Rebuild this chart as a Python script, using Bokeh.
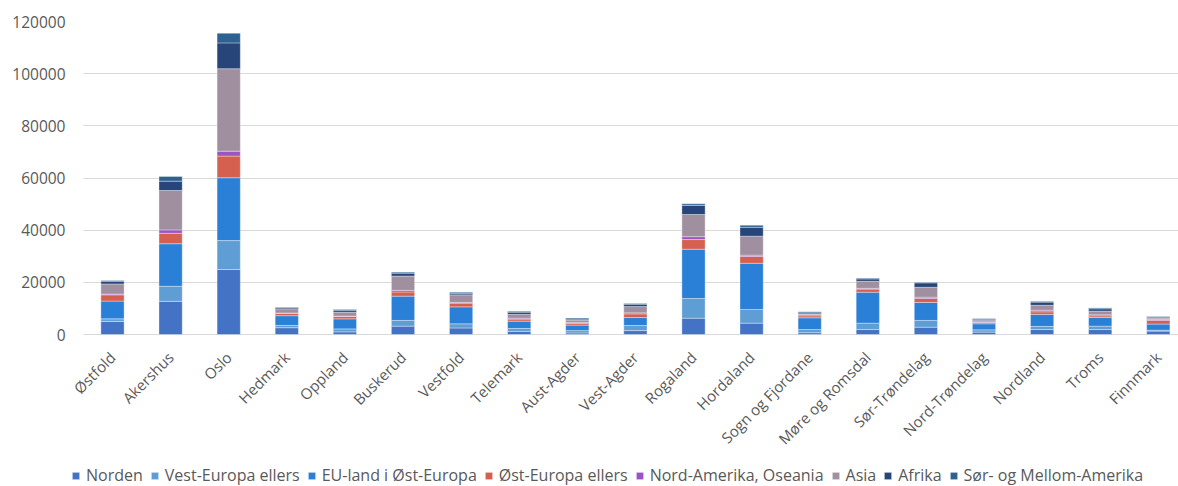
from math import pi
from bokeh.plotting import figure
from bokeh.models import (ColumnDataSource, Range1d, FixedTicker, NumeralTickFormatter,
                          LinearAxis, BoxAnnotation)
from bokeh.embed import file_html
from bokeh.resources import INLINE

regions = ["Østfold", "Akershus", "Oslo", "Hedmark", "Oppland", "Buskerud", "Vestfold",
           "Telemark", "Aust-Agder", "Vest-Agder", "Rogaland", "Hordaland",
           "Sogn og Fjordane", "Møre og Romsdal", "Sør-Trøndelag", "Nord-Trøndelag",
           "Nordland", "Troms", "Finnmark"]

norden      = [5000, 12700, 24900, 2600, 1000, 3200, 2500, 1200, 600, 1500, 6250, 4350, 700, 1900, 2800, 900, 1900, 1900, 1300]
vest_europa = [1000, 5800, 11100, 900, 1150, 2200, 1600, 1100, 900, 1950, 7550, 5250, 1200, 2450, 2600, 900, 1200, 1300, 350]
eu_ost      = [6800, 16300, 24100, 3700, 3850, 9300, 6500, 2800, 2100, 3050, 18900, 17700, 4500, 11850, 6900, 2300, 4600, 3300, 2350]
ost_ellers  = [2400, 4000, 8300, 900, 900, 1600, 1400, 800, 600, 1400, 3700, 2600, 750, 1200, 1500, 500, 1000, 650, 1400]
nord_am     = [300, 1300, 1900, 150, 150, 600, 300, 350, 400, 400, 1100, 500, 400, 300, 500, 250, 600, 400, 400]
asia        = [3900, 15100, 31600, 1600, 1500, 5500, 2900, 1450, 900, 2400, 8500, 7300, 350, 2700, 3800, 500, 1900, 1400, 500]
afrika      = [1000, 3600, 9900, 500, 750, 1100, 600, 850, 400, 900, 3500, 3400, 400, 900, 1700, 500, 1200, 900, 350]
sor_am      = [300, 1800, 3700, 200, 300, 400, 400, 350, 400, 300, 600, 800, 400, 300, 250, 250, 300, 350, 250]

series_labels = ["Norden", "Vest-Europa ellers", "EU-land i Øst-Europa", "Øst-Europa ellers",
                 "Nord-Amerika, Oseania", "Asia", "Afrika", "Sør- og Mellom-Amerika"]
series_keys = ["norden", "vest_europa", "eu_ost", "ost_ellers", "nord_am", "asia", "afrika", "sor_am"]
colors = ["#4472C4", "#5F9ED4", "#2A7FD7", "#D66050", "#9B55C3", "#A0909F", "#274579", "#2C6191"]

y_ticks = [0, 20000, 40000, 60000, 80000, 100000, 120000]

source = ColumnDataSource(dict(
    x=list(range(len(regions))),
    norden=norden, vest_europa=vest_europa, eu_ost=eu_ost, ost_ellers=ost_ellers,
    nord_am=nord_am, asia=asia, afrika=afrika, sor_am=sor_am,
))

FONT = "Open Sans"
GREY = "#595959"

# layout constants (pixels)
W, H = 1178, 486
FRAME_LEFT, FRAME_TOP = 66, 21
ZERO_Y = 334
CAT_W = 58.1
FIRST_CENTER = 112

PX_PER_UNIT = (ZERO_Y - FRAME_TOP) / 120000
y_start = -(H - ZERO_Y) / PX_PER_UNIT
x_start = -(FIRST_CENTER - FRAME_LEFT) / CAT_W
x_end = x_start + (W - FRAME_LEFT) / CAT_W

p = figure(width=W, height=H, output_backend="svg", toolbar_location=None,
           x_range=Range1d(x_start, x_end), y_range=Range1d(y_start, 120000),
           x_axis_location=None,
           min_border_left=FRAME_LEFT, min_border_right=0, min_border_top=FRAME_TOP,
           min_border_bottom=0)

p.outline_line_color = None
p.background_fill_color = "white"
p.xgrid.visible = False
p.ygrid.ticker = FixedTicker(ticks=y_ticks)
p.ygrid.grid_line_color = "#d9d9d9"
p.ygrid.grid_line_width = 1

# gridlines begin at the left edge of the first category slot
p.add_layout(BoxAnnotation(right=-0.5, fill_color="white", fill_alpha=1.0,
                           line_color=None, level="underlay"))

p.vbar_stack(series_keys, x="x", width=0.4, source=source, fill_color=colors,
             line_color="white", line_alpha=0.35, line_width=1,
             legend_label=series_labels)

p.yaxis.ticker = FixedTicker(ticks=y_ticks)
p.yaxis.formatter = NumeralTickFormatter(format="0")
p.yaxis.axis_line_color = None
p.yaxis.major_tick_line_color = None
p.yaxis.minor_tick_line_color = None
p.yaxis.major_tick_out = 0
p.yaxis.major_tick_in = 0
p.yaxis.major_label_standoff = 1
p.yaxis.major_label_text_font = FONT
p.yaxis.major_label_text_font_size = "15.5px"
p.yaxis.major_label_text_color = GREY

xaxis = LinearAxis(fixed_location=0,
                   ticker=FixedTicker(ticks=list(range(len(regions)))),
                   major_label_overrides={i: r for i, r in enumerate(regions)},
                   major_label_orientation=pi / 4,
                   axis_line_color=None,
                   major_tick_line_color=None, minor_tick_line_color=None,
                   major_tick_out=0, major_tick_in=0,
                   major_label_standoff=20,
                   major_label_text_font=FONT,
                   major_label_text_font_size="15px",
                   major_label_text_color=GREY)
p.add_layout(xaxis, "below")

leg = p.legend[0]
leg.orientation = "horizontal"
leg.location = (5, 0)
leg.glyph_width = 9
leg.glyph_height = 9
leg.label_standoff = 6
leg.spacing = 7
leg.padding = 0
leg.margin = 0
leg.border_line_color = None
leg.background_fill_alpha = 0
leg.label_text_font = FONT
leg.label_text_font_size = "16px"
leg.label_text_color = GREY

open("out.html", "w").write(file_html(p, INLINE))
